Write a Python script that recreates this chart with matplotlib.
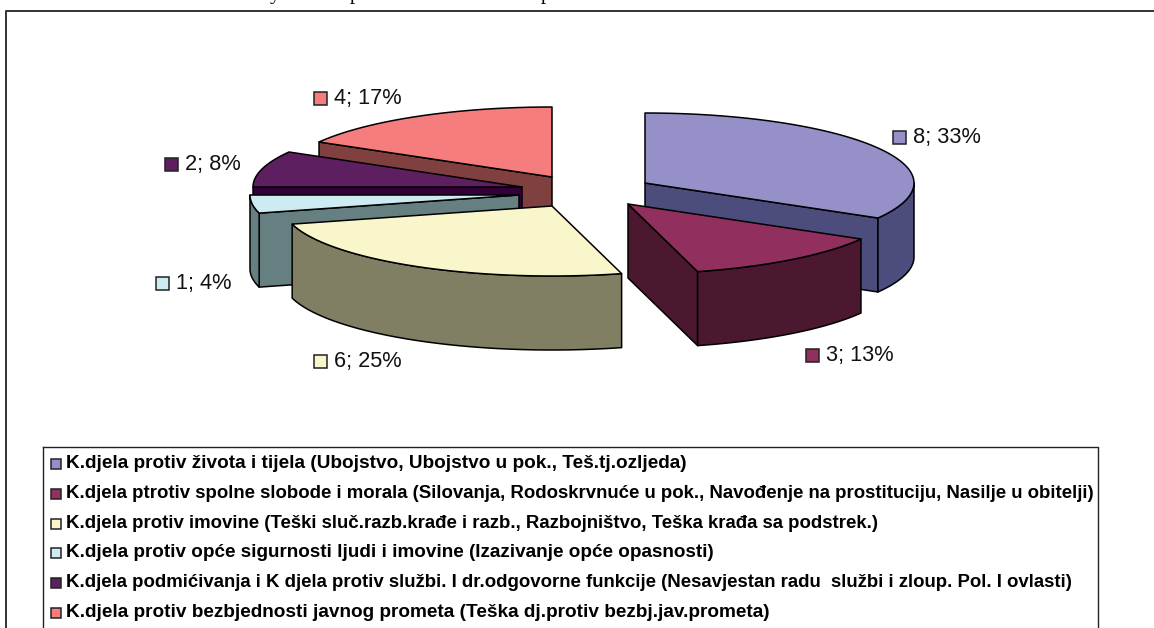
import numpy as np
import matplotlib
matplotlib.use("Agg")
import matplotlib.pyplot as plt
from matplotlib.patches import Rectangle

# podaci
vrijednosti = [8, 3, 6, 1, 2, 4]
kategorije = [
    "K.djela protiv života i tijela (Ubojstvo, Ubojstvo u pok., Teš.tj.ozljeda)",
    "K.djela ptrotiv spolne slobode i morala (Silovanja, Rodoskrvnuće u pok., Navođenje na prostituciju, Nasilje u obitelji)",
    "K.djela protiv imovine (Teški sluč.razb.krađe i razb., Razbojništvo, Teška krađa sa podstrek.)",
    "K.djela protiv opće sigurnosti ljudi i imovine (Izazivanje opće opasnosti)",
    "K.djela podmićivanja i K djela protiv službi. I dr.odgovorne funkcije (Nesavjestan radu  službi i zloup. Pol. I ovlasti)",
    "K.djela protiv bezbjednosti javnog prometa (Teška dj.protiv bezbj.jav.prometa)",
]
boje = ["#9690C8", "#91305F", "#FAF6CC", "#CDEBF0", "#5D1F5F", "#F57D7D"]
boje_zid = ["#4C4C7D", "#4C1830", "#807F64", "#667F80", "#33003A", "#804040"]

# raspored
sredista = [(645, 183), (628, 204), (552, 206), (519, 195), (522, 187), (552, 177)]
rx, ry, dubina = 269, 70, 74
redoslijed = [5, 4, 3, 2, 0, 1]
oznake_poz = [(893, 137), (806, 355), (314, 361), (156, 283), (165, 164), (314, 98)]
legenda_font = [13.65, 13.45, 13.4, 13.6, 13.43, 13.65]
W, H = 1154, 628

plt.rcParams["font.family"] = "Liberation Sans"

fig = plt.figure(figsize=(W / 100, H / 100), dpi=100)
ax = fig.add_axes([0, 0, 1, 1])
ax.set_xlim(0, W)
ax.set_ylim(H, 0)
ax.axis("off")


def tocka(c, kut):
    t = np.radians(kut)
    return c[0] + rx * np.sin(t), c[1] - ry * np.cos(t)


def crtaj_krisku(c, a, b, boja, boja_zid):
    rub = {"edgecolor": "black", "linewidth": 1.1, "joinstyle": "round"}
    # radijalni zidovi
    for kut, vidljiv in ((a, np.sin(np.radians(a)) < -1e-9), (b, np.sin(np.radians(b)) > 1e-9)):
        if vidljiv:
            x, y = tocka(c, kut)
            ax.fill([c[0], x, x, c[0]], [c[1], y, y + dubina, c[1] + dubina],
                    facecolor=boja_zid, **rub)
    # vanjski zid, samo prednja strana
    k0, k1 = max(a, 90), min(b, 270)
    if k1 > k0:
        kutovi = np.linspace(k0, k1, 60)
        x, y = tocka(c, kutovi)
        ax.fill(np.r_[x, x[::-1]], np.r_[y, y[::-1] + dubina], facecolor=boja_zid, **rub)
    # gornja ploha
    kutovi = np.linspace(a, b, 100)
    x, y = tocka(c, kutovi)
    ax.fill(np.r_[c[0], x], np.r_[c[1], y], facecolor=boja, **rub)


ukupno = sum(vrijednosti)
granice = np.r_[0, np.cumsum(vrijednosti)] / ukupno * 360
for i in redoslijed:
    crtaj_krisku(sredista[i], granice[i], granice[i + 1], boje[i], boje_zid[i])

# oznake uz kriske
for i, v in enumerate(vrijednosti):
    x, y = oznake_poz[i]
    ax.add_patch(Rectangle((x, y - 6.5), 13, 13, facecolor=boje[i], edgecolor="#222222", linewidth=1.1))
    postotak = int(v / ukupno * 100 + 0.5)
    ax.text(x + 20, y + 0.5, f"{v}; {postotak}%", fontsize=15.7, va="center", ha="left", color="#111111")

# okvir grafikona, desno i dolje ide do ruba slike
ax.plot([W + 2, 6, 6], [11, 11, H + 2], color="#333333", lw=1.4, clip_on=True)

# legenda
ax.plot([43, 43], [H + 2, 447], color="#222222", lw=1)
ax.plot([43, 1098, 1098], [447, 447, H + 2], color="#222222", lw=1)
for i, naziv in enumerate(kategorije):
    y = 464 + i * 29.8
    ax.add_patch(Rectangle((51, y - 5), 10, 10, facecolor=boje[i], edgecolor="#222222", linewidth=1.1))
    ax.text(66.5, y - 0.5, naziv, fontsize=legenda_font[i], fontweight="bold", va="center", ha="left", color="black")

# odrezani redak teksta iznad grafikona
for x, slovo in ((270, "y"), (350, "p"), (541, "p")):
    ax.text(x, -1, slovo, fontsize=15, family="Liberation Serif", va="baseline", ha="left", color="black")

fig.savefig("out.png", dpi=100)
